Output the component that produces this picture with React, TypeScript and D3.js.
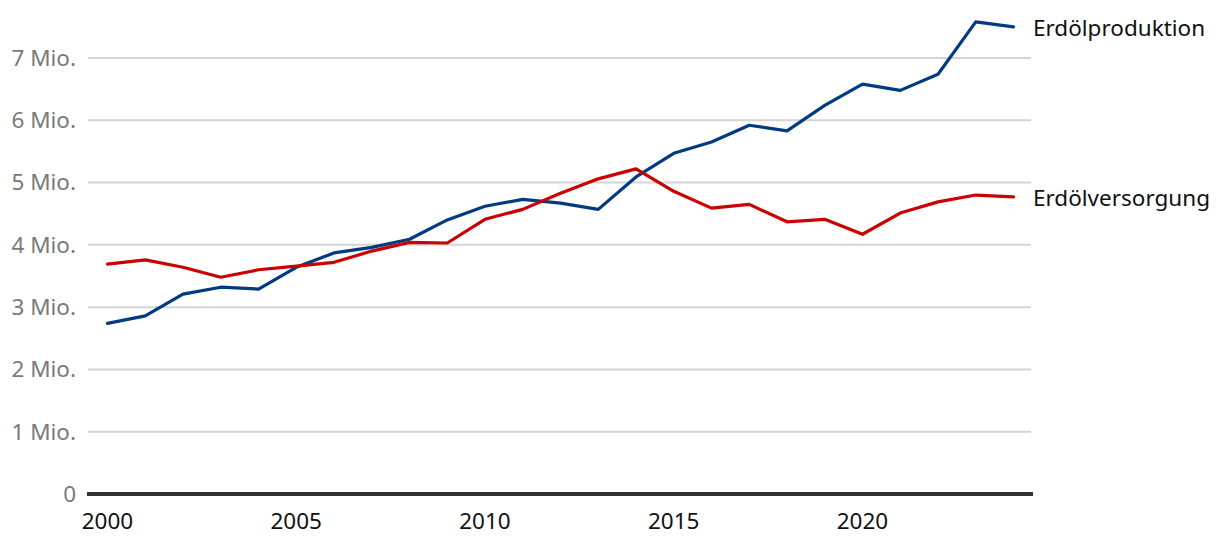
import React from "react";
import * as d3 from "d3";

const years = d3.range(2000, 2025);
const produktion = [2.74, 2.86, 3.21, 3.32, 3.29, 3.64, 3.87, 3.96, 4.09, 4.40, 4.62, 4.73, 4.67, 4.57, 5.09, 5.47, 5.65, 5.92, 5.83, 6.24, 6.58, 6.48, 6.74, 7.58, 7.50];
const versorgung = [3.69, 3.76, 3.64, 3.48, 3.60, 3.66, 3.72, 3.90, 4.04, 4.03, 4.41, 4.57, 4.83, 5.06, 5.22, 4.86, 4.59, 4.65, 4.37, 4.41, 4.17, 4.51, 4.69, 4.80, 4.77];
const yTicks = [0, 1, 2, 3, 4, 5, 6, 7];
const xTicks = [2000, 2005, 2010, 2015, 2020];
const seriesNames = ["Erdölproduktion", "Erdölversorgung"];
const colors = ["#003b7f", "#cc0000"];

export default function App() {
  const W = 1220, H = 548;
  const x = d3.scaleLinear().domain([2000, 2024]).range([107.5, 1013.5]);
  const y = d3.scaleLinear().domain([0, 7]).range([494, 58]);
  const line = d3.line<number>().x((_, i) => x(years[i])).y((d) => y(d));
  const font = "'Noto Sans', sans-serif";
  const fs = 22.5;
  const series = [produktion, versorgung];
  return (
    <svg width={W} height={H} style={{ position: "absolute", left: 0, top: 0, background: "#fff" }}>
      {yTicks.filter((t) => t > 0).map((t) => (
        <line key={t} x1={88} x2={1031} y1={y(t)} y2={y(t)} stroke="#d4d4d4" strokeWidth={2} />
      ))}
      {yTicks.map((t) => (
        <text key={t} x={76} y={y(t)} dy="0.35em" textAnchor="end" fill="#7a7a7a" fontSize={fs} fontFamily={font}>
          {t === 0 ? "0" : `${t} Mio.`}
        </text>
      ))}
      <line x1={87} x2={1033} y1={y(0)} y2={y(0)} stroke="#333" strokeWidth={4} />
      {xTicks.map((t) => (
        <text key={t} x={x(t)} y={529} textAnchor="middle" fill="#111" fontSize={fs} fontFamily={font}>
          {t}
        </text>
      ))}
      {series.map((s, k) => (
        <path key={k} d={line(s) || ""} fill="none" stroke={colors[k]} strokeWidth={3.2} strokeLinejoin="round" strokeLinecap="round" />
      ))}
      {series.map((s, k) => (
        <text key={k} x={1033} y={y(s[s.length - 1]) + 1} dy="0.35em" fill="#111" fontSize={fs} fontFamily={font}>
          {seriesNames[k]}
        </text>
      ))}
    </svg>
  );
}
